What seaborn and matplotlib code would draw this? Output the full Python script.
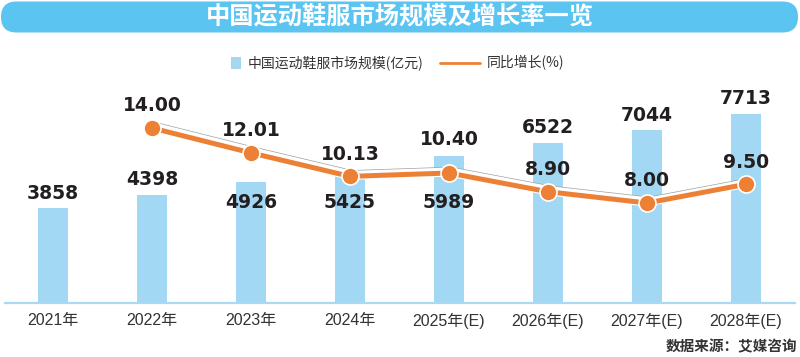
import numpy as np
import pandas as pd
import matplotlib
matplotlib.use("Agg")
import matplotlib.pyplot as plt
import seaborn as sns
from matplotlib.patches import FancyBboxPatch, Rectangle
from matplotlib.lines import Line2D
import matplotlib.patheffects as pe

# ---- data ----
years = ['2021年', '2022年', '2023年', '2024年', '2025年(E)', '2026年(E)', '2027年(E)', '2028年(E)']
market_size = [3858, 4398, 4926, 5425, 5989, 6522, 7044, 7713]
growth = [np.nan, 14.00, 12.01, 10.13, 10.40, 8.90, 8.00, 9.50]
growth_labels = ['', '14.00', '12.01', '10.13', '10.40', '8.90', '8.00', '9.50']

title = '中国运动鞋服市场规模及增长率一览'
legend_bar = '中国运动鞋服市场规模(亿元)'
legend_line = '同比增长(%)'
source = '数据来源：艾媒咨询'

# ---- style ----
bar_color = '#A3D8F4'
orange = '#EC8136'
banner_color = '#5BC4F0'
num_color = '#231F20'
txt_color = '#333333'
CJK = ['Noto Sans CJK SC', 'DejaVu Sans']

sns.set_theme(style='white')
plt.rcParams['font.family'] = ['Liberation Sans', 'Noto Sans CJK SC', 'DejaVu Sans']

df = pd.DataFrame({'year': years, 'size': market_size, 'growth': growth,
                   'pos': np.arange(len(years))})
gdf = df.dropna(subset=['growth'])

fig = plt.figure(figsize=(8, 3.57), dpi=100)

# background overlay in pixel units
bg = fig.add_axes([0, 0, 1, 1])
bg.set_xlim(0, 800)
bg.set_ylim(357, 0)
bg.axis('off')

bg.add_patch(FancyBboxPatch((1, 1.5), 797, 31, boxstyle='round,pad=0,rounding_size=15.5',
                            fc=banner_color, ec='none'))
bg.text(400, 17, title, ha='center', va='center', color='white', fontsize=17.5,
        fontweight='bold', family=CJK)

# legend
bg.add_patch(Rectangle((231, 57), 10, 12, fc=bar_color, ec='none'))
bg.text(248, 63, legend_bar, ha='left', va='center', fontsize=10, color=txt_color, family=CJK)
bg.add_line(Line2D([440, 480], [63, 63], color=orange, lw=2))
bg.text(487, 63, legend_line, ha='left', va='center', fontsize=10, color=txt_color, family=CJK)

bg.text(797, 346, source, ha='right', va='center', fontsize=10.5, fontweight='bold',
        color=txt_color, family=CJK)

# main axes
ax = fig.add_axes([5 / 800, 54 / 357, 790 / 800, 203 / 357])
ax.patch.set_alpha(0)
sns.barplot(data=df, x='year', y='size', ax=ax, color=bar_color, saturation=1,
            width=0.30, linewidth=0, order=years)
ax.set_xlim(-0.485, 7.495)
ax.set_ylim(0, 8286)
for s in ['top', 'left', 'right']:
    ax.spines[s].set_visible(False)
ax.spines['bottom'].set_color('#A8DAF5')
ax.spines['bottom'].set_linewidth(1.6)
ax.set_yticks([])
ax.set_xlabel('')
ax.set_ylabel('')
ax.tick_params(axis='x', length=0, pad=7, labelsize=11.5, colors=txt_color)

num_font = dict(family='DejaVu Sans', fontweight='bold', fontsize=13.5, color=num_color)

# bar value labels
below = {'2023年', '2024年', '2025年(E)'}
for i, (yr, v) in enumerate(zip(years, market_size)):
    if yr in below:
        ax.text(i, 0.493, f'{v}', transform=ax.get_xaxis_transform(),
                ha='center', va='center', **num_font)
    else:
        ax.annotate(f'{v}', xy=(i, v), xytext=(0, 11), textcoords='offset points',
                    ha='center', va='center', **num_font)

# growth line
ax2 = ax.twinx()
ax2.set_ylim(0, 16.24)
effects = [
    pe.Stroke(offset=(1.5, 1.6), linewidth=5.8, foreground='#A0A0A0'),
    pe.Stroke(offset=(1.5, 1.6), linewidth=4.8, foreground='white'),
    pe.Stroke(linewidth=5.2, foreground='white'),
    pe.Normal(),
]
sns.lineplot(data=gdf, x='pos', y='growth', ax=ax2, color=orange, linewidth=3.6,
             path_effects=effects)
sns.scatterplot(data=gdf, x='pos', y='growth', ax=ax2, color=orange, s=150,
                edgecolor='white', linewidth=1.2, zorder=5)
ax2.set_xlim(-0.485, 7.495)
for s in ax2.spines.values():
    s.set_visible(False)
ax2.set_yticks([])
ax2.set_ylabel('')
ax2.set_xlabel('')

for i, (g, lab) in enumerate(zip(growth, growth_labels)):
    if not lab:
        continue
    dy = 24 if lab == '10.40' else 16
    ax2.annotate(lab, xy=(i, g), xytext=(0, dy), textcoords='offset points',
                 ha='center', va='center', **num_font)

fig.savefig('out.png', dpi=100)
